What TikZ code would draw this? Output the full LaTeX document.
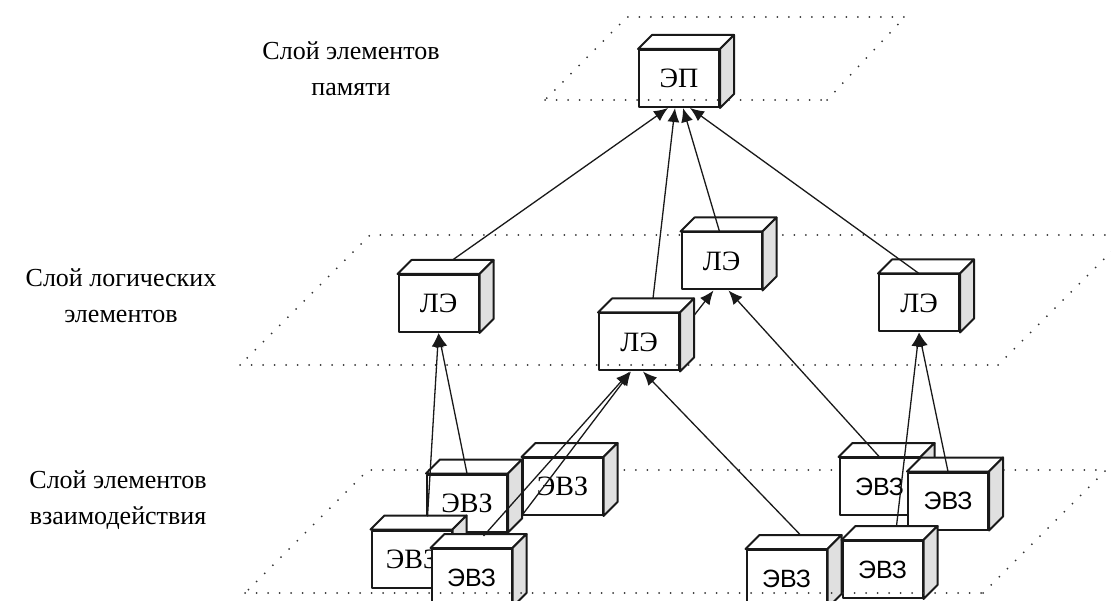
\documentclass[tikz,border=0pt]{standalone}
\usepackage{fontspec}
\setmainfont{Liberation Serif}
\newfontfamily\sansfont{Liberation Sans}
\usetikzlibrary{arrows.meta}

\begin{document}
\begin{tikzpicture}
    [
    x=1pt, y=-1pt,
    edgeline/.style = {draw=black!90, line width=2pt, line join=round},
    cube/.style = {edgeline, fill=white, minimum width=80pt, minimum height=57pt, inner sep=0pt, font=\rmfamily\fontsize{28}{28}\selectfont,
      append after command={\pgfextra{\pgfinterruptpath
        \draw[edgeline, fill=white]
          (\tikzlastnode.north west) -- ++(14pt,14pt) -- ([shift={(14pt,14pt)}]\tikzlastnode.north east) -- (\tikzlastnode.north east) -- cycle;
        \draw[edgeline, fill=black!12]
          (\tikzlastnode.north east) -- ++(14pt,14pt) -- ([shift={(14pt,14pt)}]\tikzlastnode.south east) -- (\tikzlastnode.south east) -- cycle;
      \endpgfinterruptpath}}},
    sanscube/.style = {cube, font=\sansfont\fontsize{25}{25}\selectfont},
    layer/.style = {black!80, line width=2pt, line cap=round, dash pattern=on 0pt off 11.5pt},
    arrow/.style = {-{Latex[length=14pt,width=12pt]}, line width=1.3pt, black!90},
    title/.style = {align=center, font=\fontsize{26}{36}\selectfont}
    ]
    \useasboundingbox (0,0) rectangle (1111,601);
    \clip (0,0) rectangle (1111,601);

% Layers
    \draw[layer] (827,100) -- (905,17) -- (627,17) -- (545,100);
    \draw[layer] (998,365) -- (1128,235) -- (370,235) -- (240,365);
    \draw[layer] (983,593) -- (1106,470) -- (368,470) -- (245,593);

% Nodes
    \node[cube] (ep) at (679,78.5) {ЭП};
    \node[cube] (le1) at (438.5,303.5) {ЛЭ};
    \node[cube] (le2) at (639,342) {ЛЭ};
    \node[cube] (le3) at (721.5,261) {ЛЭ};
    \node[cube] (le4) at (919,303) {ЛЭ};
    \node[cube] (evz1) at (467,503) {ЭВЗ};
    \node[cube] (evz2) at (562.5,486.5) {ЭВЗ};
    \node[cube] (evz3) at (411.5,559) {ЭВЗ};
    \node[sanscube] (evz4) at (471.5,577.5) {ЭВЗ};
    \node[sanscube] (evz5) at (879.5,486.5) {ЭВЗ};
    \node[sanscube] (evz6) at (948,501) {ЭВЗ};
    \node[sanscube] (evz7) at (786.5,578.5) {ЭВЗ};
    \node[sanscube] (evz8) at (882.5,569.5) {ЭВЗ};

% Layer fronts
    \draw[layer] (545,100) -- (827,100);
    \draw[layer] (240,365) -- (998,365);
    \draw[layer] (245,593) -- (983,593);

% Arrows
    \draw[arrow] ([shift={(14pt,14pt)}]le1.north) -- ([xshift=-11pt]ep.south);
    \draw[arrow] ([shift={(14pt,14pt)}]le2.north) -- ([xshift=-4pt]ep.south);
    \draw[arrow] ([xshift=-2pt]le3.north) -- ([xshift=4pt]ep.south);
    \draw[arrow] (le4.north) -- ([xshift=11pt]ep.south);
    \draw[arrow] ([shift={(16pt,13pt)}]evz3.north) -- (le1.south);
    \draw[arrow] (evz1.north) -- (le1.south);
    \draw[arrow] ([shift={(12pt,12pt)}]evz4.north) -- ([xshift=-9pt]le2.south);
    \draw[arrow] (evz2.south west) -- ([xshift=-8pt]le2.south);
    \draw[arrow] ([shift={(14pt,14pt)}]evz7.north) -- ([xshift=4pt]le2.south);
    \draw[arrow] ([shift={(14pt,-3pt)}]le2.north east) -- ([xshift=-8pt]le3.south);
    \draw[arrow] (evz5.north) -- ([xshift=7pt]le3.south);
    \draw[arrow] ([shift={(14pt,14pt)}]evz8.north) -- (le4.south);
    \draw[arrow] (evz6.north) -- (le4.south);

% Labels
    \node[title] (memlabel) at (351,69) {Слой элементов\\памяти};
    \node[title] (loglabel) at (121,296) {Слой логических\\элементов};
    \node[title] (intlabel) at (118,500) {Слой элементов\\взаимодействия};

\end{tikzpicture}
\end{document}
